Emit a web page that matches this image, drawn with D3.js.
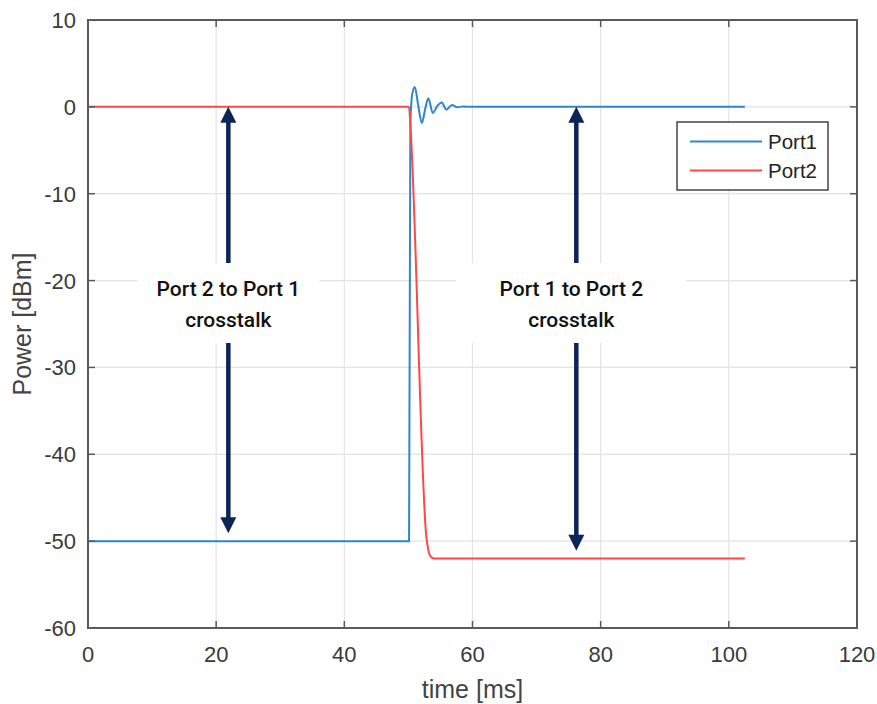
<!DOCTYPE html>
<html>
<head>
<meta charset="utf-8">
<title>Port crosstalk</title>
<script src="https://cdnjs.cloudflare.com/ajax/libs/d3/7.8.5/d3.min.js"></script>
<style>
  body { margin: 0; background: #fff; }
  svg { display: block; }
</style>
</head>
<body>
<div id="chart"></div>
<script>
// values
const xTicks = [0, 20, 40, 60, 80, 100, 120];
const yTicks = [10, 0, -10, -20, -30, -40, -50, -60];

// Port1: -50 dBm, switches at ~50 ms with damped ringing, settles at 0
const port1Time  = [0, 50.1, 50.3, 50.6, 51.0, 51.5, 52.1, 52.6, 53.1, 53.8, 54.5, 55.2, 55.9, 56.8, 57.6, 58.5, 60, 102.5];
const port1Power = [-50, -50, -2, 1.5, 2.3, 0.3, -1.85, -0.3, 1.0, -0.7, 0.1, 0.5, -0.3, 0.2, -0.05, 0.05, 0, 0];

// Port2: 0 dBm, falls after ~50 ms to about -52 dBm
const port2Time  = [0, 50.1, 50.3, 52.8, 53.1, 53.5, 54.0, 102.5];
const port2Power = [0, 0, -2, -49.5, -51, -51.8, -52, -52];

const seriesNames = ["Port1", "Port2"];
const seriesColors = ["#2f86cc", "#ff4747"];

// annotations: x position, arrow from / to (dBm), label lines
const arrowX = [21.9, 76.2];
const arrowTop = [0, 0];
const arrowBottom = [-49.1, -51.1];
const labelLines = [["Port 2 to Port 1", "crosstalk"], ["Port 1 to Port 2", "crosstalk"]];

const W = 877, H = 704;
const m = { left: 88, right: 20, top: 20, bottom: 76 };

const svg = d3.select("#chart").append("svg")
  .attr("width", W).attr("height", H);

const x = d3.scaleLinear().domain([0, 120]).range([m.left, W - m.right]);
const y = d3.scaleLinear().domain([-60, 10]).range([H - m.bottom, m.top]);

// grid
svg.append("g").selectAll("line")
  .data(xTicks.slice(1, -1)).enter().append("line")
  .attr("x1", d => x(d)).attr("x2", d => x(d))
  .attr("y1", y(10)).attr("y2", y(-60))
  .style("stroke", "#e3e3e3").style("stroke-width", 1.2);
svg.append("g").selectAll("line")
  .data(yTicks.slice(1, -1)).enter().append("line")
  .attr("y1", d => y(d)).attr("y2", d => y(d))
  .attr("x1", x(0)).attr("x2", x(120))
  .style("stroke", "#e3e3e3").style("stroke-width", 1.2);

// lines
const line = d3.line().x(d => x(d[0])).y(d => y(d[1])).curve(d3.curveMonotoneX);
const series = [
  d3.zip(port1Time, port1Power),
  d3.zip(port2Time, port2Power)
];
series.forEach((s, i) => {
  svg.append("path")
    .datum(s)
    .attr("d", line)
    .style("fill", "none")
    .style("stroke", seriesColors[i])
    .style("stroke-width", 2)
    .style("stroke-linejoin", "round");
});

// arrows
const navy = "#0b2558";
arrowX.forEach((ax, i) => {
  const xp = x(ax);
  const y0 = y(arrowTop[i]), y1 = y(arrowBottom[i]);
  const head = 16, half = 8;
  svg.append("line")
    .attr("x1", xp).attr("x2", xp)
    .attr("y1", y0 + head - 1).attr("y2", y1 - head + 1)
    .style("stroke", navy).style("stroke-width", 4.5);
  svg.append("path")
    .attr("d", `M${xp},${y0}L${xp - half},${y0 + head}L${xp + half},${y0 + head}Z`)
    .style("fill", navy);
  svg.append("path")
    .attr("d", `M${xp},${y1}L${xp - half},${y1 - head}L${xp + half},${y1 - head}Z`)
    .style("fill", navy);
});

// annotation label boxes (white, over grid and arrows)
const boxW = [182, 230];
arrowX.forEach((ax, i) => {
  const cx = x(ax) + (i === 1 ? -5 : 0);
  svg.append("rect")
    .attr("x", cx - boxW[i] / 2).attr("y", 263)
    .attr("width", boxW[i]).attr("height", 80)
    .style("fill", "#fff");
  const t = svg.append("text")
    .attr("text-anchor", "middle")
    .style("font-family", "Roboto, 'Noto Sans', sans-serif")
    .style("font-weight", 500)
    .style("font-size", "21px")
    .style("fill", "#111");
  labelLines[i].forEach((l, j) => {
    t.append("tspan").attr("x", cx).attr("y", 296 + j * 31).text(l);
  });
});

// frame
svg.append("rect")
  .attr("x", x(0)).attr("y", y(10))
  .attr("width", x(120) - x(0)).attr("height", y(-60) - y(10))
  .style("fill", "none").style("stroke", "#5a5a5a").style("stroke-width", 2);

// inward ticks
const tickCol = "#5a5a5a";
svg.append("g").selectAll("line")
  .data(xTicks.slice(1, -1)).enter().append("line")
  .attr("x1", d => x(d)).attr("x2", d => x(d))
  .attr("y1", y(-60)).attr("y2", y(-60) - 7)
  .style("stroke", tickCol).style("stroke-width", 1.5);
svg.append("g").selectAll("line")
  .data(xTicks.slice(1, -1)).enter().append("line")
  .attr("x1", d => x(d)).attr("x2", d => x(d))
  .attr("y1", y(10)).attr("y2", y(10) + 7)
  .style("stroke", tickCol).style("stroke-width", 1.5);
svg.append("g").selectAll("line")
  .data(yTicks.slice(1, -1)).enter().append("line")
  .attr("y1", d => y(d)).attr("y2", d => y(d))
  .attr("x1", x(0)).attr("x2", x(0) + 7)
  .style("stroke", tickCol).style("stroke-width", 1.5);
svg.append("g").selectAll("line")
  .data(yTicks.slice(1, -1)).enter().append("line")
  .attr("y1", d => y(d)).attr("y2", d => y(d))
  .attr("x1", x(120)).attr("x2", x(120) - 7)
  .style("stroke", tickCol).style("stroke-width", 1.5);

// tick labels
const tickFont = "'Liberation Sans', Arial, sans-serif";
svg.append("g").selectAll("text")
  .data(xTicks).enter().append("text")
  .attr("x", d => x(d)).attr("y", y(-60) + 34)
  .attr("text-anchor", "middle")
  .style("font-family", tickFont).style("font-size", "22px").style("fill", "#3a3a3a")
  .text(d => d);
svg.append("g").selectAll("text")
  .data(yTicks).enter().append("text")
  .attr("x", x(0) - 12).attr("y", d => y(d) + 8)
  .attr("text-anchor", "end")
  .style("font-family", tickFont).style("font-size", "22px").style("fill", "#3a3a3a")
  .text(d => d);

// axis titles
svg.append("text")
  .attr("x", x(60)).attr("y", 698)
  .attr("text-anchor", "middle")
  .style("font-family", tickFont).style("font-size", "25px").style("fill", "#444")
  .text("time [ms]");
svg.append("text")
  .attr("transform", `translate(31,${y(-25)}) rotate(-90)`)
  .attr("text-anchor", "middle")
  .style("font-family", tickFont).style("font-size", "25px").style("fill", "#444")
  .text("Power [dBm]");

// legend
const lg = svg.append("g").attr("transform", "translate(677,122)");
lg.append("rect").attr("width", 151).attr("height", 68)
  .style("fill", "#fff").style("stroke", "#444").style("stroke-width", 1.5);
seriesNames.forEach((n, i) => {
  const ly = 19.5 + i * 29;
  lg.append("line").attr("x1", 13).attr("x2", 85).attr("y1", ly).attr("y2", ly)
    .style("stroke", seriesColors[i]).style("stroke-width", 2);
  lg.append("text").attr("x", 91).attr("y", ly + 7.5)
    .style("font-family", tickFont).style("font-size", "20.5px").style("fill", "#222")
    .text(n);
});
</script>
</body>
</html>
